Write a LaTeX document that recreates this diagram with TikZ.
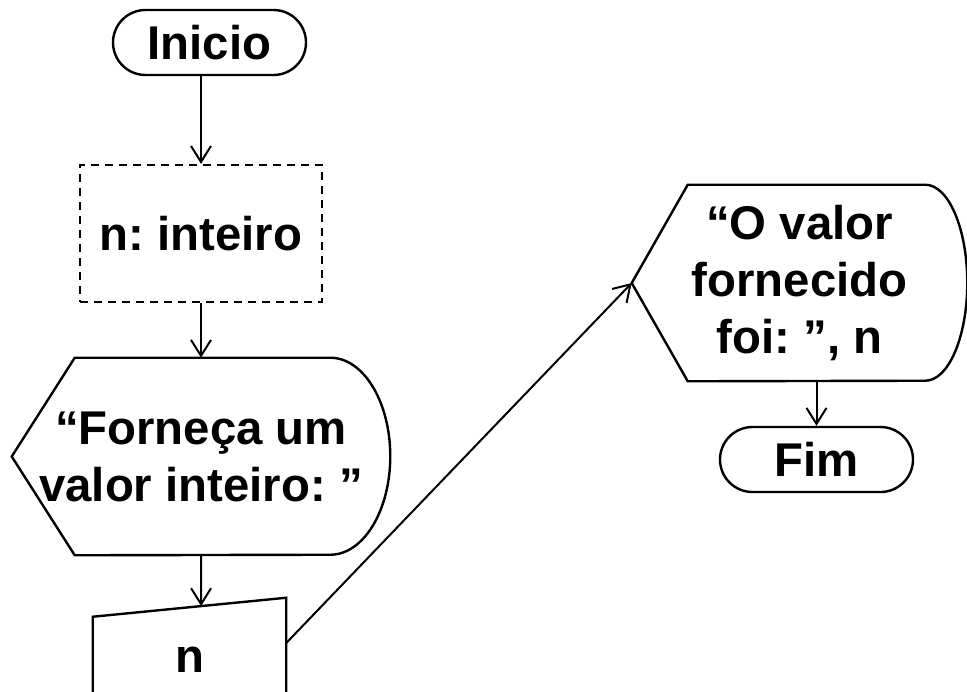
\documentclass[tikz,border=0pt]{standalone}
\usepackage{fontspec}
\setmainfont{Liberation Sans}
\frenchspacing
\usetikzlibrary{shapes.misc,arrows.meta}
\usetikzlibrary{positioning,calc}
\tikzset{every node/.style={font=\fontsize{35.5}{42.75}\selectfont\bfseries, align=center, inner sep=0pt},
term/.style={rounded rectangle, draw, line width=1.8pt, minimum width=144.75pt, minimum height=48.75pt},
decl/.style={rectangle, draw, dash pattern=on 6pt off 4.5pt, line width=1.7pt, minimum width=181.5pt, minimum height=102.75pt},
shp/.style={line width=1.8pt, line join=miter}
}

\begin{document}
\begin{tikzpicture}[> = {Straight Barb[length=12pt,width=15pt]}, x=0.75pt, y=-0.75pt]
            \useasboundingbox (0,0) rectangle (967,692);
            \node[term] (ini) at (209.5,42.5) {Inicio};
            \node[decl] (decl) at (201,233.5) {n: inteiro};
            \node[minimum width=283.5pt, minimum height=147.75pt] (disp1) at (201,456.5) {“Forneça um\\valor inteiro: ”};
            \node[minimum width=144.75pt, minimum height=93pt] (entr) at (189.5,660) {n};
            \node[minimum width=251.25pt, minimum height=147pt] (disp2) at (799.5,283) {“O valor\\fornecido\\foi: ”, n};
            \node[term] (fim) at (816.5,459.5) {Fim};
            % contornos das figuras
            \draw[shp] (disp1.west) -- ([xshift=47.25pt]disp1.north west) -- ([xshift=-45pt]disp1.north east)
                arc[start angle=90, end angle=-90, x radius=45pt, y radius=73.875pt]
                -- ([xshift=47.25pt]disp1.south west) -- cycle;
            \draw[shp] (disp2.west) -- ([xshift=42pt]disp2.north west) -- ([xshift=-31.5pt]disp2.north east)
                arc[start angle=90, end angle=-90, x radius=31.5pt, y radius=73.5pt]
                -- ([xshift=42pt]disp2.south west) -- cycle;
            \draw[shp] (entr.south west) -- ([yshift=-14.25pt]entr.north west) coordinate (entr-nw)
                -- (entr.north east) -- (entr.south east) -- cycle;
            \coordinate (entr-in) at ($(entr-nw)!0.56!(entr.north east)$);
            \path[->,line width=1.5pt] (decl.north |- ini.south) edge (decl.north)
                (decl) edge (disp1)
                (disp1.south) edge (entr-in)
                ([yshift=12.75pt]entr.east) edge (disp2.west)
                (fim.north |- disp2.south) edge (fim.north);
        \end{tikzpicture}
\end{document}
